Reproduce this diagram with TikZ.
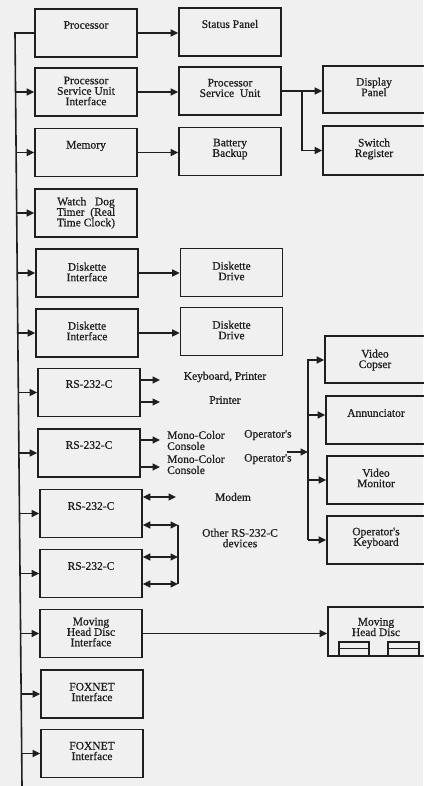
\documentclass[tikz,border=0pt]{standalone}
\usepackage{fontspec}
\setmainfont{Liberation Serif}
\newfontfamily\boxfont[FakeBold=0.7]{Liberation Serif}
\usetikzlibrary{arrows.meta}
\begin{document}
\begin{tikzpicture}[x=1pt,y=-1pt,
  ln/.style={line width=1.6pt, draw=black!88},
  box/.style={ln, minimum width=102pt, minimum height=48pt, inner sep=0pt},
  rbox/.style={box, minimum width=#1},
  txt/.style={inner sep=0pt, align=center, font=\boxfont\fontsize{11.5}{10.5}\selectfont, text=black!88},
  arr/.style={ln, -{Triangle[length=7.5pt,width=7pt]}},
  darr/.style={ln, {Triangle[length=7.5pt,width=7pt]}-{Triangle[length=7.5pt,width=7pt]}}]
\fill[black!6] (0,0) rectangle (423,786);
\useasboundingbox (0,0) rectangle (423,786);

% left column
\node[box] (L1) at (86,33) {};
\node[box] (L2) at (86,92) {};
\node[box] (L3) at (86,152.5) {};
\node[box] (L4) at (86,213) {};
\node[box] (L5) at (87,273) {};
\node[box] (L6) at (87,333) {};
\node[box] (L7) at (89,392.5) {};
\node[box] (L8) at (89,453) {};
\node[box] (L9) at (91,513.5) {};
\node[box] (L10) at (91,573.5) {};
\node[box] (L11) at (91,633.5) {};
\node[box] (L12) at (92,694) {};
\node[box] (L13) at (92,753.5) {};

\node[txt] at (86,25) {Processor};
\node[txt] at (86,91) {Processor\\Service Unit\\Interface};
\node[txt] at (86,146) {Memory};
\node[txt] at (86,213) {Watch\ \ \ Dog\\Timer\ \ (Real\\Time Clock)};
\node[txt] at (87,272) {Diskette\\Interface};
\node[txt] at (87,331) {Diskette\\Interface};
\node[txt] at (89,384) {RS-232-C};
\node[txt] at (89,445) {RS-232-C};
\node[txt] at (91,506) {RS-232-C};
\node[txt] at (91,566) {RS-232-C};
\node[txt] at (91,632) {Moving\\Head Disc\\Interface};
\node[txt] at (92,692) {FOXNET\\Interface};
\node[txt] at (92,751) {FOXNET\\Interface};

% middle column
\node[box] (M1) at (230,32) {};
\node[box] (M2) at (230,91) {};
\node[box] (M3) at (230,151.5) {};
\node[box] (M5) at (231.5,272.5) {};
\node[box] (M6) at (231.5,331.5) {};
\node[txt] at (230,24) {Status Panel};
\node[txt] at (230,88) {Processor\\Service\ \ Unit};
\node[txt] at (230,149) {Battery\\Backup};
\node[txt] at (231.5,271) {Diskette\\Drive};
\node[txt] at (231.5,330) {Diskette\\Drive};

% right column
\node[rbox=103pt, minimum height=47pt] (R2) at (374.5,89.5) {};
\node[rbox=103pt, minimum height=49pt] (R3) at (374.5,150.5) {};
\node[rbox=101pt, minimum height=47pt] (VC) at (375.5,359.5) {};
\node[rbox=100pt] (AN) at (376,420) {};
\node[rbox=99pt] (VM) at (376.5,480) {};
\node[rbox=99pt] (KB) at (376.5,540) {};
\node[rbox=98pt, minimum height=49pt] (MH) at (377,631.5) {};
\node[txt] at (374,87) {Display\\Panel};
\node[txt] at (374,149) {Switch\\Register};
\node[txt] at (375,360) {Video\\Copser};
\node[txt] at (376,413) {Annunciator};
\node[txt] at (376,478) {Video\\Monitor};
\node[txt] at (376,538) {Operator's\\Keyboard};
\node[txt] at (376,627) {Moving\\Head Disc};
\draw[ln, line width=1.2pt] (339,642) rectangle (369,656) (339,648.5) -- (369,648.5);
\draw[ln, line width=1.2pt] (388,642) rectangle (419,656) (388,648.5) -- (419,648.5);

% bus
\coordinate (bt) at (15,33);
\coordinate (bb) at (22,786);
\draw[ln] (L1.west) -- (bt) -- (bb);
\foreach \n/\x in {L2/15.5,L3/16.1,L4/16.7,L5/17.2,L6/17.8,L7/18.3,L8/18.9,L9/19.5,L10/20,L11/20.6,L12/21.1,L13/21.7}
  \draw[arr] (\n.west -| \x,0) -- (\n.west);

% left to middle
\draw[arr] (L1.east) -- (L1.east -| M1.west);
\draw[arr] (L2.east) -- (L2.east -| M2.west);
\draw[arr] (L3.east) -- (L3.east -| M3.west);
\draw[arr] (L5.east) -- (L5.east -| M5.west);
\draw[arr] (L6.east) -- (L6.east -| M6.west);

% processor service unit to display / switch
\coordinate (j1) at (302,91);
\draw[arr] (M2.east) -- (M2.east -| R2.west);
\draw[arr] (j1) |- (R3.west);

% RS-232-C outputs
\coordinate (k1) at (160,380);
\coordinate (k2) at (160,402);
\coordinate (k3) at (160,440);
\coordinate (k4) at (160,467);
\draw[arr] (L7.east |- k1) -- (k1);
\draw[arr] (L7.east |- k2) -- (k2);
\draw[arr] (L8.east |- k3) -- (k3);
\draw[arr] (L8.east |- k4) -- (k4);
\node[txt] (t1) at (225,377) {Keyboard, Printer};
\node[txt] (t2) at (225,400) {Printer};
\node[txt, anchor=west] (t3) at (167,435) {Mono-Color};
\node[txt, anchor=west] (t4) at (244,435) {Operator's};
\node[txt, anchor=west] (t5) at (167,446) {Console};
\node[txt, anchor=west] (t6) at (167,459) {Mono-Color};
\node[txt, anchor=west] (t7) at (244,459) {Operator's};
\node[txt, anchor=west] (t8) at (167,470) {Console};

\coordinate (m1) at (176,497);
\coordinate (m2) at (178,525);
\coordinate (m3) at (178,557);
\coordinate (m4) at (178,584);
\draw[darr] (L9.east |- m1) -- (m1);
\draw[darr] (L9.east |- m2) -- (m2);
\draw[darr] (L10.east |- m3) -- (m3);
\draw[darr] (L10.east |- m4) -- (m4);
\draw[ln] (m2) -- (m4);
\node[txt] (t9) at (233,497) {Modem};
\node[txt] (t10) at (240,538) {Other RS-232-C\\devices};

% video bus
\coordinate (v1) at (308,360);
\coordinate (v2) at (308,415);
\coordinate (v3) at (308,480);
\coordinate (v4) at (308,540);
\coordinate (in1) at (287,452);
\draw[arr] (v4) -- (v1) -- (v1 -| VC.west);
\draw[arr] (v2) -- (v2 -| AN.west);
\draw[arr] (v3) -- (v3 -| VM.west);
\draw[arr] (v4) -- (v4 -| KB.west);
\draw[arr] (in1) -- (in1 -| v1);

% moving head disc
\draw[arr] (L11.east) -- (L11.east -| MH.west);
\end{tikzpicture}
\end{document}
